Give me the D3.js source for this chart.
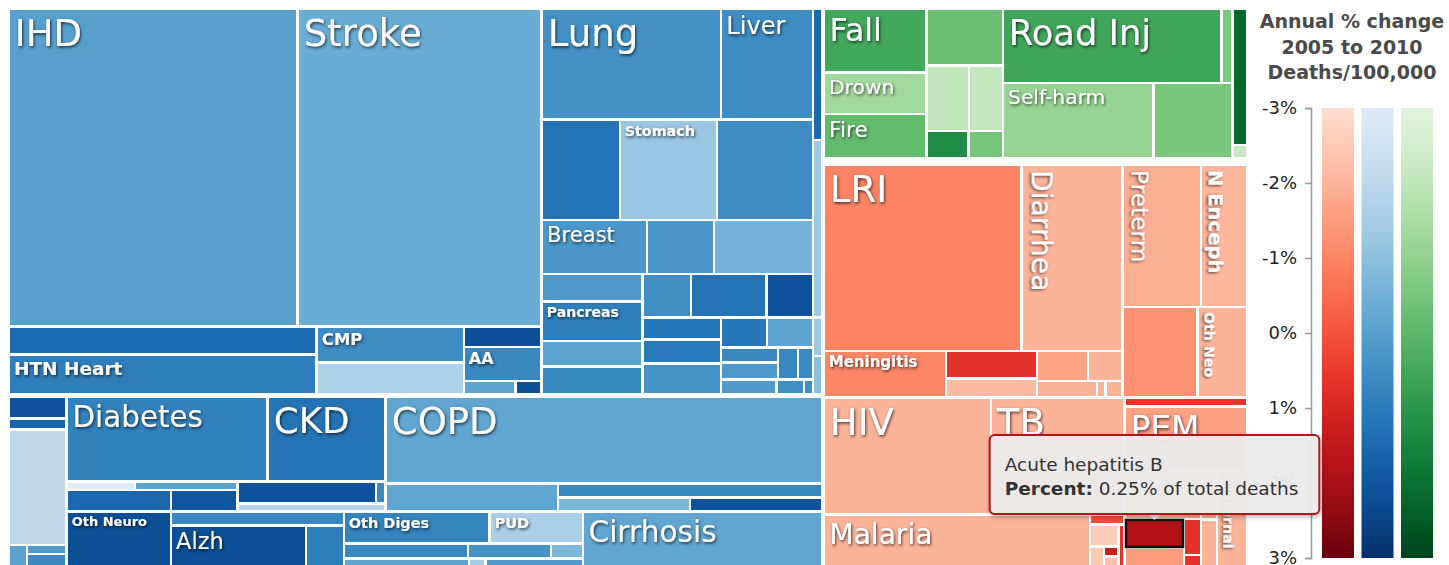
<!DOCTYPE html>
<html>
<head>
<meta charset="utf-8">
<title>Causes of death, annual % change 2005 to 2010</title>
<script src="https://cdn.jsdelivr.net/npm/d3@7"></script>
<style>
  body { margin: 0; background: #fff; }
  svg { display: block; font-family: "DejaVu Sans", Verdana, sans-serif; }
  .axis text { font-size: 18px; fill: #222; font-family: "DejaVu Sans", Verdana, sans-serif; }
  .axis path, .axis line { stroke: #999; stroke-width: 1.5; }
</style>
</head>
<body>
<div id="chart"></div>
<script>
// layout nodes: [id, parent, direction]   h = children side by side, v = stacked
// causes:       [id, parent, label, % of total deaths, annual % change 2005-2010]
const topNodes = [
  ['root', null, 'h'],
  ['ncd', 'root', 'v'],
  ['right', 'root', 'v'],
  ['inj', 'right', 'h'],
  ['cmnn', 'right', 'v']
];

const ncdNodes = [
  ['ncdTop', 'ncd', 'h'],
  ['cardio', 'ncdTop', 'v'],
  ['cvTop', 'cardio', 'h'],
  ['ihd', 'cvTop', 'IHD', 13.15, 0.0],
  ['stroke', 'cvTop', 'Stroke', 11.13, -0.36],
  ['cvBot', 'cardio', 'h'],
  ['cvBotA', 'cvBot', 'v'],
  ['othCardio', 'cvBotA', '', 1.24, 1.5],
  ['htnHeart', 'cvBotA', 'HTN Heart', 1.77, 0.94],
  ['cvBotB', 'cvBot', 'v'],
  ['cmp', 'cvBotB', 'CMP', 0.76, 0.57],
  ['rhd', 'cvBotB', '', 0.68, -1.66],
  ['cvBotC', 'cvBot', 'v'],
  ['afib', 'cvBotC', '', 0.23, 2.18],
  ['aa', 'cvBotC', 'AA', 0.38, 0.67],
  ['cvBotC3', 'cvBotC', 'h'],
  ['pad', 'cvBotC3', '', 0.10, -0.12],
  ['endo', 'cvBotC3', '', 0.05, 2.2],
  ['cancer', 'ncdTop', 'v'],
  ['canR1', 'cancer', 'h'],
  ['lung', 'canR1', 'Lung', 2.85, 0.43],
  ['liver', 'canR1', 'Liver', 1.46, 0.57],
  ['canR2', 'cancer', 'h'],
  ['colorect', 'canR2', '', 1.13, 1.22],
  ['stomach', 'canR2', 'Stomach', 1.40, -1.22],
  ['esoph', 'canR2', '', 1.39, 0.6],
  ['canR3', 'cancer', 'h'],
  ['breast', 'canR3', 'Breast', 0.82, 0.26],
  ['prostate', 'canR3', '', 0.52, 0.26],
  ['leukemia', 'canR3', '', 0.77, -0.57],
  ['canR4', 'cancer', 'h'],
  ['canR4L', 'canR4', 'v'],
  ['lymphoma', 'canR4L', '', 0.40, 0.19],
  ['pancreas', 'canR4L', 'Pancreas', 0.57, 0.94],
  ['cervix', 'canR4L', '', 0.37, -0.12],
  ['othNeopl', 'canR4L', '', 0.41, 0.74],
  ['canR4R', 'canR4', 'v'],
  ['canR4Rt', 'canR4R', 'h'],
  ['bladder', 'canR4Rt', '', 0.30, 0.53],
  ['brainCa', 'canR4Rt', '', 0.47, 1.25],
  ['ovary', 'canR4Rt', '', 0.29, 2.1],
  ['canR4Rb', 'canR4R', 'h'],
  ['canColA', 'canR4Rb', 'v'],
  ['mouthCa', 'canColA', '', 0.25, 1.15],
  ['kidneyCa', 'canColA', '', 0.27, 1.08],
  ['myeloma', 'canColA', '', 0.35, 0.4],
  ['canColB', 'canR4Rb', 'v'],
  ['canB1', 'canColB', 'h'],
  ['nasoph', 'canB1', '', 0.20, 1.15],
  ['larynx', 'canB1', '', 0.20, -0.12],
  ['canB2', 'canColB', 'h'],
  ['canB2a', 'canB2', 'v'],
  ['uterus', 'canB2a', '', 0.12, 0.67],
  ['gallblCa', 'canB2a', '', 0.14, 0.19],
  ['melanoma', 'canB2', '', 0.09, 0.7],
  ['thyroid', 'canB2', '', 0.07, 0.65],
  ['canB3', 'canColB', 'h'],
  ['hodgkin', 'canB3', '', 0.12, 0.15],
  ['testis', 'canB3', '', 0.06, 0.5],
  ['othCa', 'canB3', '', 0.02, 0.5],
  ['othNcd', 'ncdTop', 'v'],
  ['congen', 'othNcd', '', 0.17, 1.5],
  ['skin', 'othNcd', '', 0.23, -1.3],
  ['sense', 'othNcd', '', 0.05, -1.3],
  ['oral', 'othNcd', '', 0.05, -1.0],
  ['ncdBot', 'ncd', 'h'],
  ['misc', 'ncdBot', 'v'],
  ['endocr', 'misc', '', 0.18, 2.1],
  ['hemog', 'misc', '', 0.09, 1.6],
  ['mental', 'misc', '', 0.97, -2.07],
  ['miscBot', 'misc', 'h'],
  ['msk', 'miscBot', '', 0.07, -0.1],
  ['miscBotR', 'miscBot', 'v'],
  ['gout', 'miscBotR', '', 0.05, 0.15],
  ['rheum', 'miscBotR', '', 0.10, 0.67],
  ['ncdRest', 'ncdBot', 'v'],
  ['restTop', 'ncdRest', 'h'],
  ['diab', 'restTop', 'v'],
  ['diabTop', 'diab', 'h'],
  ['diabetes', 'diabTop', 'Diabetes', 2.46, 0.84],
  ['ckd', 'diabTop', 'CKD', 1.44, 1.25],
  ['diabBot', 'diab', 'h'],
  ['diabBotL', 'diabBot', 'v'],
  ['diabBotL1', 'diabBotL', 'h'],
  ['urinary', 'diabBotL1', '', 0.08, -3],
  ['gyne', 'diabBotL1', '', 0.12, -0.1],
  ['diabBotL2', 'diabBotL', 'h'],
  ['anemia', 'diabBotL2', '', 0.33, 1.55],
  ['hemoglob', 'diabBotL2', '', 0.21, 2.0],
  ['diabBotR', 'diabBot', 'v'],
  ['diabBotR1', 'diabBotR', 'h'],
  ['othEndo', 'diabBotR1', '', 0.44, 2.1],
  ['infert', 'diabBotR1', '', 0.03, 0.67],
  ['urolith', 'diabBotR', '', 0.17, -1.8],
  ['chronResp', 'restTop', 'v'],
  ['copd', 'chronResp', 'COPD', 5.47, -0.19],
  ['respBot', 'chronResp', 'h'],
  ['asthma', 'respBot', '', 0.70, -0.19],
  ['respBotR', 'respBot', 'v'],
  ['ild', 'respBotR', '', 0.53, 0.72],
  ['respBotR2', 'respBotR', 'h'],
  ['pneumoc', 'respBotR2', '', 0.27, -0.7],
  ['othResp', 'respBotR2', '', 0.27, 2.1],
  ['restBot', 'ncdRest', 'h'],
  ['neuro', 'restBot', 'h'],
  ['othNeuro', 'neuro', 'Oth Neuro', 0.90, 2.2],
  ['neuroR', 'neuro', 'v'],
  ['epilepsy', 'neuroR', '', 0.35, 0.67],
  ['neuroR2', 'neuroR', 'h'],
  ['alzh', 'neuroR2', 'Alzh', 0.89, 2.2],
  ['parkinson', 'neuroR2', '', 0.25, 0.94],
  ['digest', 'restBot', 'v'],
  ['digTop', 'digest', 'h'],
  ['othDiges', 'digTop', 'Oth Diges', 0.67, 0.8],
  ['pud', 'digTop', 'PUD', 0.43, -1.57],
  ['digB1', 'digest', 'h'],
  ['ileus', 'digB1', '', 0.27, 0.67],
  ['pancreatitis', 'digB1', '', 0.18, 0.4],
  ['gastritis', 'digB1', '', 0.07, -0.7],
  ['digB2', 'digest', 'h'],
  ['gallbladder', 'digB2', '', 0.23, -0.12],
  ['appendic', 'digB2', '', 0.03, -1.5],
  ['hernia', 'digB2', '', 0.18, 0.19],
  ['cirrhosis', 'restBot', 'Cirrhosis', 2.06, -0.19]
];

const injuryNodes = [
  ['unint', 'inj', 'h'],
  ['unintA', 'unint', 'v'],
  ['fall', 'unintA', 'Fall', 0.97, 0.5],
  ['drown', 'unintA', 'Drown', 0.63, -1.32],
  ['fire', 'unintA', 'Fire', 0.68, -0.15],
  ['unintB', 'unint', 'v'],
  ['othUnint', 'unintB', '', 0.64, -0.29],
  ['unintB2', 'unintB', 'h'],
  ['poison', 'unintB2', '', 0.41, -2.07],
  ['mechanical', 'unintB2', '', 0.33, -2.1],
  ['unintB3', 'unintB', 'h'],
  ['animal', 'unintB3', '', 0.17, 1.32],
  ['adverse', 'unintB3', '', 0.14, -0.5],
  ['transInt', 'inj', 'v'],
  ['transport', 'transInt', 'h'],
  ['roadInj', 'transport', 'Road Inj', 2.41, 0.53],
  ['othTransport', 'transport', '', 0.12, -0.6],
  ['intentional', 'transInt', 'h'],
  ['selfHarm', 'intentional', 'Self-harm', 1.68, -1.11],
  ['violence', 'intentional', '', 0.88, -0.57],
  ['natureWar', 'inj', 'v'],
  ['nature', 'natureWar', '', 0.30, 2.2],
  ['war', 'natureWar', '', 0.03, -2.14]
];

const cmnnNodes = [
  ['cTop', 'cmnn', 'h'],
  ['respInf', 'cTop', 'v'],
  ['riTop', 'respInf', 'h'],
  ['lri', 'riTop', 'LRI', 5.29, -0.98],
  ['diarrhea', 'riTop', 'Diarrhea', 2.70, -2.0],
  ['riBot', 'respInf', 'h'],
  ['meningitis', 'riBot', 'Meningitis', 0.82, -1.05],
  ['riB2', 'riBot', 'v'],
  ['encephalitis', 'riB2', '', 0.36, 0.67],
  ['uri', 'riB2', '', 0.25, -2.14],
  ['riB3', 'riBot', 'v'],
  ['riB3a', 'riB3', 'h'],
  ['measles', 'riB3a', '', 0.22, -1.66],
  ['tetanus', 'riB3a', '', 0.15, -2.0],
  ['riB3b', 'riB3', 'h'],
  ['pertussis', 'riB3b', '', 0.14, -2.0],
  ['otitis', 'riB3b', '', 0.02, -2.0],
  ['diphtheria', 'riB3b', '', 0.04, -2.0],
  ['neonatal', 'cTop', 'v'],
  ['neoTop', 'neonatal', 'h'],
  ['preterm', 'neoTop', 'Preterm', 1.61, -1.87],
  ['nEnceph', 'neoTop', 'N Enceph', 0.94, -2.05],
  ['neoBot', 'neonatal', 'h'],
  ['nSepsis', 'neoBot', '', 0.98, -1.29],
  ['othNeo', 'neoBot', 'Oth Neo', 0.65, -2.0],
  ['cBot', 'cmnn', 'h'],
  ['htm', 'cBot', 'v'],
  ['hivtb', 'htm', 'h'],
  ['hiv', 'hivtb', 'HIV', 2.82, -2.0],
  ['tb', 'hivtb', 'TB', 2.25, -2.0],
  ['malRow', 'htm', 'h'],
  ['malaria', 'malRow', 'Malaria', 2.18, -2.0],
  ['malOth', 'malRow', 'v'],
  ['typhoid', 'malOth', '', 0.05, 0.1],
  ['malOth2', 'malOth', 'h'],
  ['malOth2a', 'malOth2', 'v'],
  ['ntd', 'malOth2a', '', 0.09, -2.56],
  ['malOth2b', 'malOth2a', 'h'],
  ['rabies', 'malOth2b', '', 0.05, -2.5],
  ['malOth2c', 'malOth2b', 'v'],
  ['dengue', 'malOth2c', '', 0.02, 1.29],
  ['chagas', 'malOth2c', '', 0.03, -2.3],
  ['leish', 'malOth2', '', 0.04, 0.67],
  ['nutrOth', 'cBot', 'v'],
  ['syphilis', 'nutrOth', '', 0.16, 0.6],
  ['pem', 'nutrOth', 'PEM', 1.16, -1.6],
  ['nutrBot', 'nutrOth', 'h'],
  ['nb1', 'nutrBot', 'v'],
  ['othInf', 'nb1', 'Oth Inf', 0.52, -1.87],
  ['nb1b', 'nb1', 'h'],
  ['hepCol', 'nb1b', 'v'],
  ['hepB', 'hepCol', '', 0.25, 1.84],
  ['hepC', 'hepCol', '', 0.20, -1.5],
  ['redCol', 'nb1b', 'v'],
  ['hepE', 'redCol', '', 0.09, 0.67],
  ['hepA', 'redCol', '', 0.04, 0.67],
  ['nb2', 'nutrBot', 'v'],
  ['iodine', 'nb2', '', 0.11, -2.0],
  ['othNutr', 'nb2', '', 0.12, -2.0],
  ['maternal', 'nutrBot', 'Maternal', 0.43, -2.0]
];

const legendTicks = [-3, -2, -1, 0, 1, 2, 3];
const legendTitle = ['Annual % change', '2005 to 2010', 'Deaths/100,000'];
const legendFamilies = ['cmnn', 'ncd', 'inj'];
const tooltipCause = 'hepB';
const tooltipName = 'Acute hepatitis B';

let width = 1449, height = 565;
let mapWidth = 1236, mapHeight = 560;

let interp = { ncd: d3.interpolateBlues, inj: d3.interpolateGreens, cmnn: d3.interpolateReds };
let tScale = d3.scaleLinear().domain([-3, 3]).range([0.125, 1]).clamp(true);
let colorOf = (fam, change) => interp[fam](tScale(change));

let rows = [...topNodes, ...ncdNodes, ...injuryNodes, ...cmnnNodes].map(r => r.length === 3
  ? { id: r[0], parent: r[1], dir: r[2] }
  : { id: r[0], parent: r[1], label: r[2], value: r[3], change: r[4] });

let root = d3.stratify().id(d => d.id).parentId(d => d.parent)(rows)
  .sum(d => d.value || 0);

let tile = (node, x0, y0, x1, y1) =>
  (node.data.dir === 'v' ? d3.treemapSlice : d3.treemapDice)(node, x0, y0, x1, y1);

d3.treemap()
  .tile(tile)
  .size([mapWidth, mapHeight])
  .paddingInner(n => n.depth === 0 ? 4 : n.id === 'right' ? 9 : n.id === 'ncd' ? 5 : 2.5)
  .round(true)(root);

let familyOf = d => d.ancestors().find(a => interp[a.id]).id;

let svg = d3.select('#chart').append('svg')
  .attr('width', width)
  .attr('height', height);

let defs = svg.append('defs');
defs.append('filter').attr('id', 'label-shadow')
  .attr('x', '-20%').attr('y', '-30%').attr('width', '140%').attr('height', '160%')
  .append('feDropShadow')
  .attr('dx', 1).attr('dy', 1.5).attr('stdDeviation', 1.6)
  .attr('flood-color', '#000').attr('flood-opacity', 0.7);
defs.append('filter').attr('id', 'tip-shadow')
  .attr('x', '-10%').attr('y', '-20%').attr('width', '120%').attr('height', '150%')
  .append('feDropShadow')
  .attr('dx', 1).attr('dy', 2).attr('stdDeviation', 2.5)
  .attr('flood-color', '#000').attr('flood-opacity', 0.3);

let map = svg.append('g').attr('transform', 'translate(10,10)');
let leaves = root.leaves();

map.selectAll('rect.cell')
  .data(leaves)
  .join('rect')
  .attr('class', 'cell')
  .attr('x', d => d.x0)
  .attr('y', d => d.y0)
  .attr('width', d => Math.max(0, d.x1 - d.x0))
  .attr('height', d => Math.max(0, d.y1 - d.y0))
  .attr('fill', d => colorOf(familyOf(d), d.data.change));

// labels: fit the text to the cell, turn it if the cell is tall and narrow
let probe = svg.append('text').attr('font-size', 100).attr('visibility', 'hidden');
function emWidth(text, weight) {
  probe.attr('font-weight', weight).text(text);
  return probe.node().getComputedTextLength() / 100;
}

leaves.filter(d => d.data.label).forEach(d => {
  let label = d.data.label;
  let w = d.x1 - d.x0, h = d.y1 - d.y0;
  let em = emWidth(label, 'normal');
  let size = Math.min(37, 0.52 * h, 0.66 * w / em), vertical = false;
  if (h > 1.3 * w) {
    let vSize = Math.min(37, 0.52 * w, 0.66 * h / em);
    if (vSize > size) { size = vSize; vertical = true; }
  }
  let weight = 'normal';
  if (size < 20) {
    weight = 'bold';
    let emB = emWidth(label, 'bold');
    size = vertical ? Math.min(0.52 * w, 0.74 * h / emB) : Math.min(0.5 * h, 0.74 * w / emB);
  }
  let t = map.append('text')
    .attr('fill', '#fff')
    .attr('filter', 'url(#label-shadow)')
    .attr('font-size', size.toFixed(1))
    .attr('font-weight', weight)
    .text(label);
  if (vertical) {
    t.attr('transform', `translate(${d.x0 + 2 + 0.24 * size},${d.y0 + 4}) rotate(90)`);
  } else {
    t.attr('x', d.x0 + 3 + 0.05 * size).attr('y', d.y0 + 0.95 * size + 1);
  }
});
probe.remove();

// legend
svg.append('g')
  .selectAll('text')
  .data(legendTitle)
  .join('text')
  .attr('x', 1352)
  .attr('y', (d, i) => 28 + i * 25.5)
  .attr('text-anchor', 'middle')
  .attr('font-size', 19)
  .attr('font-weight', 'bold')
  .attr('fill', '#4a4a4a')
  .text(d => d);

let ly = d3.scaleLinear().domain([-3, 3]).range([108, 558]);
let bx = d3.scaleBand().domain(legendFamilies).range([1322, 1433]).paddingInner(0.19);

legendFamilies.forEach(f => {
  let grad = defs.append('linearGradient').attr('id', 'grad-' + f)
    .attr('x1', 0).attr('y1', 0).attr('x2', 0).attr('y2', 1);
  d3.range(0, 1.001, 0.1).forEach(s => grad.append('stop')
    .attr('offset', s)
    .attr('stop-color', colorOf(f, -3 + 6 * s)));
});

svg.append('g')
  .selectAll('rect')
  .data(legendFamilies)
  .join('rect')
  .attr('x', d => bx(d))
  .attr('y', ly(-3))
  .attr('width', bx.bandwidth())
  .attr('height', ly(3) - ly(-3))
  .attr('fill', d => `url(#grad-${d})`);

svg.append('g')
  .attr('class', 'axis')
  .attr('transform', 'translate(1311,0)')
  .call(d3.axisLeft(ly).tickValues(legendTicks).tickFormat(d => d + '%').tickSize(6).tickPadding(8));

// hovered cell and its tooltip
let hov = leaves.find(d => d.id === tooltipCause);
let hovColor = colorOf(familyOf(hov), hov.data.change);
map.append('rect')
  .attr('x', hov.x0).attr('y', hov.y0)
  .attr('width', hov.x1 - hov.x0).attr('height', hov.y1 - hov.y0)
  .attr('fill', 'none')
  .attr('stroke', '#111')
  .attr('stroke-width', 2.5);

let tip = svg.append('g');
let line1 = tip.append('text').attr('font-size', 18.5).attr('fill', '#333').text(tooltipName);
let line2 = tip.append('text').attr('font-size', 18.5).attr('fill', '#333');
line2.append('tspan').attr('font-weight', 'bold').text('Percent:');
line2.append('tspan').text(` ${d3.format('.2f')(hov.value)}% of total deaths`);

let tipW = Math.max(line1.node().getComputedTextLength(), line2.node().getComputedTextLength()) + 36;
let tipH = 79;
let cx = 10 + (hov.x0 + hov.x1) / 2;
let tipBottom = 10 + hov.y0 - 6;
let tipX = cx - tipW / 2, tipY = tipBottom - tipH;

tip.insert('path', 'text')
  .attr('d', `M${cx - 7},${tipBottom}L${cx},${tipBottom + 6}L${cx + 7},${tipBottom}Z`)
  .attr('fill', 'rgba(238,238,238,0.92)');
tip.insert('rect', 'text')
  .attr('x', tipX).attr('y', tipY)
  .attr('width', tipW).attr('height', tipH)
  .attr('rx', 5)
  .attr('fill', 'rgba(236,236,236,0.94)')
  .attr('stroke', hovColor)
  .attr('stroke-width', 2)
  .attr('filter', 'url(#tip-shadow)');
line1.attr('x', tipX + 15).attr('y', tipY + 36);
line2.attr('x', tipX + 15).attr('y', tipY + 60);
</script>
</body>
</html>
